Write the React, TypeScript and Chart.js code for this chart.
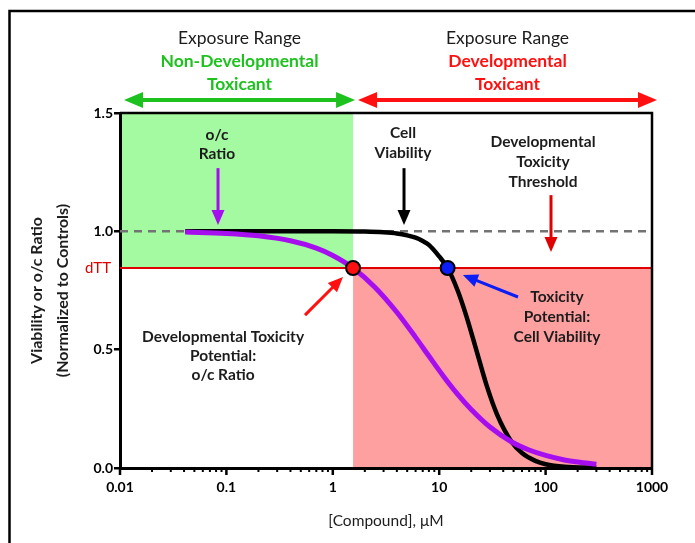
import React, { useEffect, useRef } from "react";
import { Chart, registerables } from "chart.js";

Chart.register(...registerables);

// ---------- data ----------
const xTickValues = [0.01, 0.1, 1, 10, 100, 1000];
const xTickLabels = ["0.01", "0.1", "1", "10", "100", "1000"];
const yTickValues = [0, 0.5, 1.0, 1.5];

// o/c ratio curve (purple)
const ratioX = [0.041, 0.1, 0.2, 0.4, 0.7, 1.0, 1.55, 2.5, 4, 6, 8, 11, 15, 20, 30, 48, 70, 100, 150, 200, 300];
const ratioY = [0.997, 0.991, 0.981, 0.96, 0.929, 0.898, 0.845, 0.763, 0.658, 0.552, 0.473, 0.387, 0.31, 0.247, 0.173, 0.11, 0.076, 0.053, 0.034, 0.025, 0.016];

// cell viability curve (black)
const viabX = [0.041, 0.5, 1, 2, 3, 4, 5, 6, 7, 8, 10, 12, 15, 18, 22, 28, 35, 48, 60, 80, 100, 150, 300];
const viabY = [1.0, 1.0, 1.0, 0.999, 0.996, 0.991, 0.983, 0.973, 0.959, 0.943, 0.894, 0.845, 0.747, 0.642, 0.509, 0.347, 0.226, 0.11, 0.063, 0.03, 0.016, 0.005, 0.001];

const controlLevel = 1.0;
const dTT = 0.845;
const ratioPotentialX = 1.55;
const viabPotentialX = 12;
const xMin = 0.01;
const xMax = 1000;
const yMin = 0;
const yMax = 1.5;

// ---------- styles ----------
const FONT = "Lato, 'Open Sans', 'DejaVu Sans', sans-serif";
const PURPLE = "#a60ef0";
const GREEN_FILL = "#a3faa0";
const PINK_FILL = "#ffa0a0";
const GREEN = "#1ec21e";
const RED = "#ff1010";
const LINE_RED = "#e00000";
const BLUE = "#0a1ef5";
const TEXT = "#1c1c1c";

// annotation texts anchored in data units
const annotations = [
  { lines: ["o/c", "Ratio"], x: 0.0815, y: 1.407, lh: 19 },
  { lines: ["Cell", "Viability"], x: 4.57, y: 1.415, lh: 20 },
  { lines: ["Developmental", "Toxicity", "Threshold"], x: 94.6, y: 1.377, lh: 20 },
  { lines: ["Toxicity", "Potential:", "Cell Viability"], x: 128, y: 0.7225, lh: 20 },
  { lines: ["Developmental Toxicity", "Potential:", "o/c Ratio"], x: 0.093, y: 0.553, lh: 19 },
];
const pointerArrows = [
  { x1: 0.0834, y1: 1.267, x2: 0.0834, y2: 1.027, color: PURPLE },
  { x1: 4.67, y1: 1.267, x2: 4.67, y2: 1.027, color: "#000" },
  { x1: 112.4, y1: 1.153, x2: 112.4, y2: 0.913, color: LINE_RED },
  { x1: 55.0, y1: 0.7225, x2: 16.7, y2: 0.815, color: BLUE },
  { x1: 0.548, y1: 0.646, x2: 1.247, y2: 0.807, color: RED },
];

function arrowHead(ctx: CanvasRenderingContext2D, x1: number, y1: number, x2: number, y2: number, len: number, half: number, color: string) {
  const a = Math.atan2(y2 - y1, x2 - x1);
  const bx = x2 - len * Math.cos(a);
  const by = y2 - len * Math.sin(a);
  ctx.fillStyle = color;
  ctx.beginPath();
  ctx.moveTo(x2, y2);
  ctx.lineTo(bx + half * Math.sin(a), by - half * Math.cos(a));
  ctx.lineTo(bx - half * Math.sin(a), by + half * Math.cos(a));
  ctx.closePath();
  ctx.fill();
}

function singleArrow(ctx: CanvasRenderingContext2D, x1: number, y1: number, x2: number, y2: number, color: string, w: number, len: number, half: number) {
  const a = Math.atan2(y2 - y1, x2 - x1);
  ctx.strokeStyle = color;
  ctx.lineWidth = w;
  ctx.lineCap = "butt";
  ctx.beginPath();
  ctx.moveTo(x1, y1);
  ctx.lineTo(x2 - (len - 2) * Math.cos(a), y2 - (len - 2) * Math.sin(a));
  ctx.stroke();
  arrowHead(ctx, x1, y1, x2, y2, len, half, color);
}

function doubleArrow(ctx: CanvasRenderingContext2D, x1: number, x2: number, y: number, color: string) {
  const len = 19, half = 8;
  ctx.strokeStyle = color;
  ctx.lineWidth = 4;
  ctx.beginPath();
  ctx.moveTo(x1 + len - 2, y);
  ctx.lineTo(x2 - len + 2, y);
  ctx.stroke();
  arrowHead(ctx, x2, y, x1, y, len, half, color);
  arrowHead(ctx, x1, y, x2, y, len, half, color);
}

const overlay = {
  id: "overlay",
  beforeDraw(chart: any) {
    const { ctx } = chart;
    const x = chart.scales.x, y = chart.scales.y;
    ctx.save();
    const gx0 = x.getPixelForValue(xMin);
    const gx1 = x.getPixelForValue(ratioPotentialX);
    const gx2 = x.getPixelForValue(xMax);
    const yTop = y.getPixelForValue(yMax);
    const yT = y.getPixelForValue(dTT);
    const y0 = y.getPixelForValue(yMin);
    ctx.fillStyle = GREEN_FILL;
    ctx.fillRect(gx0, yTop, gx1 - gx0, yT - yTop);
    ctx.fillStyle = PINK_FILL;
    ctx.fillRect(gx1, yT, gx2 - gx1, y0 - yT);
    ctx.restore();
  },
  afterDraw(chart: any) {
    const { ctx, chartArea } = chart;
    const x = chart.scales.x, y = chart.scales.y;
    ctx.save();

    // plot box top / right
    ctx.strokeStyle = "#000";
    ctx.lineWidth = 2.5;
    ctx.beginPath();
    ctx.moveTo(chartArea.left, chartArea.top);
    ctx.lineTo(chartArea.right, chartArea.top);
    ctx.lineTo(chartArea.right, chartArea.bottom);
    ctx.stroke();

    // x tick marks (major / minor)
    for (const t of x.ticks) {
      const px = x.getPixelForValue(t.value);
      const major = xTickValues.some((v) => Math.abs(v - t.value) / v < 1e-6);
      ctx.lineWidth = major ? 2.5 : 2;
      ctx.beginPath();
      ctx.moveTo(px, chartArea.bottom);
      ctx.lineTo(px, chartArea.bottom + (major ? 7 : 4));
      ctx.stroke();
    }

    // outer frame
    ctx.lineWidth = 2.5;
    ctx.beginPath();
    ctx.moveTo(9.5, 543);
    ctx.lineTo(9.5, 11);
    ctx.lineTo(695, 11);
    ctx.stroke();

    // dTT label
    ctx.fillStyle = LINE_RED;
    ctx.font = `15px ${FONT}`;
    ctx.textAlign = "right";
    ctx.textBaseline = "middle";
    ctx.fillText("dTT", chartArea.left - 9, y.getPixelForValue(dTT));

    // axis titles
    ctx.fillStyle = TEXT;
    ctx.textAlign = "center";
    ctx.font = `15.5px ${FONT}`;
    ctx.fillText("[Compound], \u03bcM", (chartArea.left + chartArea.right) / 2, 521);
    ctx.save();
    ctx.translate(0, (chartArea.top + chartArea.bottom) / 2);
    ctx.rotate(-Math.PI / 2);
    ctx.font = `bold 16px ${FONT}`;
    ctx.fillText("Viability or o/c Ratio", 0, 37);
    ctx.fillText("(Normalized to Controls)", 0, 63);
    ctx.restore();

    // top exposure range headers and arrows
    const gx0 = x.getPixelForValue(xMin) + 4;
    const gx1 = x.getPixelForValue(ratioPotentialX) + 2;
    const gx1b = gx1 + 3;
    const gx2 = x.getPixelForValue(xMax) + 5;
    const ay = chartArea.top - 13;
    doubleArrow(ctx, gx0, gx1, ay, GREEN);
    doubleArrow(ctx, gx1b, gx2, ay, RED);
    const lc = (gx0 + gx1) / 2, rc = (gx1b + gx2) / 2;
    ctx.font = `17.5px ${FONT}`;
    ctx.fillStyle = TEXT;
    ctx.fillText("Exposure Range", lc, 38);
    ctx.fillText("Exposure Range", rc, 38);
    ctx.font = `bold 17.5px ${FONT}`;
    ctx.fillStyle = GREEN;
    ctx.fillText("Non-Developmental", lc, 61);
    ctx.fillText("Toxicant", lc, 84);
    ctx.fillStyle = RED;
    ctx.fillText("Developmental", rc, 61);
    ctx.fillText("Toxicant", rc, 84);

    // annotation texts
    ctx.fillStyle = TEXT;
    ctx.font = `bold 15.5px ${FONT}`;
    for (const a of annotations) {
      const px = x.getPixelForValue(a.x);
      const py = y.getPixelForValue(a.y);
      a.lines.forEach((l, i) => ctx.fillText(l, px, py + i * a.lh));
    }

    // pointer arrows
    for (const p of pointerArrows) {
      singleArrow(
        ctx,
        x.getPixelForValue(p.x1), y.getPixelForValue(p.y1),
        x.getPixelForValue(p.x2), y.getPixelForValue(p.y2),
        p.color, 3, 15, 6.5
      );
    }
    ctx.restore();
  },
};

export default function App() {
  const ref = useRef<HTMLCanvasElement | null>(null);
  useEffect(() => {
    if (!ref.current) return;
    const toXY = (xs: number[], ys: number[]) => xs.map((v, i) => ({ x: v, y: ys[i] }));
    const chart = new Chart(ref.current, {
      type: "line",
      data: {
        datasets: [
          {
            label: "Potentials",
            data: [
              { x: ratioPotentialX, y: dTT },
              { x: viabPotentialX, y: dTT },
            ],
            showLine: false,
            pointRadius: 7,
            pointBorderWidth: 2,
            pointBorderColor: "#000",
            pointBackgroundColor: [RED, BLUE],
            order: 0,
          },
          {
            label: "o/c Ratio",
            data: toXY(ratioX, ratioY),
            borderColor: PURPLE,
            borderWidth: 5,
            pointRadius: 0,
            cubicInterpolationMode: "monotone",
            order: 1,
          },
          {
            label: "Cell Viability",
            data: toXY(viabX, viabY),
            borderColor: "#000",
            borderWidth: 4.5,
            pointRadius: 0,
            cubicInterpolationMode: "monotone",
            order: 2,
          },
          {
            label: "dTT",
            data: [
              { x: xMin, y: dTT },
              { x: xMax, y: dTT },
            ],
            borderColor: LINE_RED,
            borderWidth: 2.2,
            pointRadius: 0,
            order: 3,
          },
          {
            label: "Controls",
            data: [
              { x: xMin, y: controlLevel },
              { x: xMax, y: controlLevel },
            ],
            borderColor: "#737373",
            borderWidth: 2.5,
            borderDash: [8, 6],
            pointRadius: 0,
            order: 4,
          },
        ],
      },
      options: {
        responsive: false,
        animation: false,
        devicePixelRatio: 1,
        layout: { padding: { left: 0, top: 113, right: 43, bottom: 0 } },
        plugins: { legend: { display: false }, tooltip: { enabled: false }, title: { display: false } },
        scales: {
          x: {
            type: "logarithmic",
            min: xMin,
            max: xMax,
            afterBuildTicks: (scale: any) => {
              const ticks: any[] = [];
              for (let d = 0; d < xTickValues.length - 1; d++) {
                for (let m = 1; m <= 9; m++) ticks.push({ value: xTickValues[d] * m, major: m === 1 });
              }
              ticks.push({ value: xTickValues[xTickValues.length - 1], major: true });
              scale.ticks = ticks;
            },
            afterFit: (scale: any) => {
              scale.height = 75;
            },
            ticks: {
              autoSkip: false,
              maxRotation: 0,
              padding: 5,
              color: "#000",
              font: { family: FONT, size: 14, weight: "bold" },
              callback: (value: any) => {
                const i = xTickValues.findIndex((v) => Math.abs(v - Number(value)) / v < 1e-6);
                return i >= 0 ? xTickLabels[i] : "";
              },
            },
            grid: { display: true, drawOnChartArea: false, drawTicks: true, tickLength: 6, color: "rgba(0,0,0,0)" },
            border: { display: true, color: "#000", width: 3 },
          },
          y: {
            min: yMin,
            max: yMax,
            afterBuildTicks: (scale: any) => {
              scale.ticks = yTickValues.map((v) => ({ value: v }));
            },
            afterFit: (scale: any) => {
              scale.width = 120;
            },
            ticks: {
              padding: 1,
              color: "#000",
              font: { family: FONT, size: 14, weight: "bold" },
              callback: (value: any) => Number(value).toFixed(1),
            },
            grid: { display: true, drawOnChartArea: false, drawTicks: true, tickLength: 6, color: "#000", lineWidth: 2.5 },
            border: { display: true, color: "#000", width: 3 },
          },
        },
      },
      plugins: [overlay],
    } as any);
    return () => chart.destroy();
  }, []);
  return (
    <div style={{ position: "absolute", left: 0, top: 0, width: 695, height: 543, background: "#fff" }}>
      <canvas ref={ref} width={695} height={543} style={{ width: 695, height: 543, display: "block" }} />
    </div>
  );
}
